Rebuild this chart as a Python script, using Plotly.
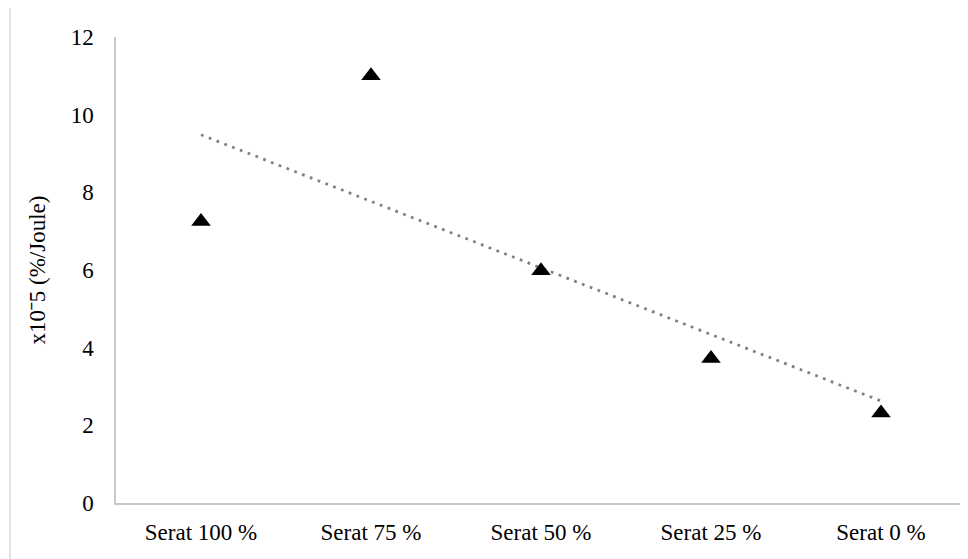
import numpy as np
import plotly.graph_objects as go

categories = ["Serat 100 %", "Serat 75 %", "Serat 50 %", "Serat 25 %", "Serat 0 %"]
values = [7.25, 11.0, 5.98, 3.72, 2.32]
y_ticks = [0, 2, 4, 6, 8, 10, 12]
y_title = "x10ˉ5 (%/Joule)"

# linear trendline (least squares) over category index
idx = np.arange(1, len(values) + 1)
slope, intercept = np.polyfit(idx, values, 1)
trend = slope * idx + intercept

FONT = "Liberation Serif, Times New Roman, serif"
FS = 23

fig = go.Figure()
fig.add_trace(go.Scatter(
    x=categories, y=trend, mode="lines",
    line=dict(color="#808080", width=2.75, dash="2.75px,5.6px"),
    hoverinfo="skip", showlegend=False,
))
fig.add_trace(go.Scatter(
    x=categories, y=values, mode="markers",
    marker=dict(symbol="triangle-up", size=17, color="black"),
    showlegend=False,
))

# page has an 8px body margin; figure sized so it ends at the viewport edge
OFF = 8
W, H = 968 - OFF, 559 - OFF
L, R, T, B = 116 - OFF, 2, 37 - OFF, 56
pw, ph = W - L - R, H - T - B

fig.update_layout(
    width=W, height=H,
    margin=dict(l=L, r=R, t=T, b=B),
    paper_bgcolor="white", plot_bgcolor="white",
    font=dict(family=FONT, size=FS, color="black"),
    xaxis=dict(
        type="category", range=[-0.5, len(categories) - 0.5],
        showgrid=False, zeroline=False,
        showline=True, linecolor="#c8c8c8", linewidth=1.5,
        ticks="", ticklabelstandoff=8,
        tickfont=dict(family=FONT, size=FS, color="black"),
    ),
    yaxis=dict(
        range=[0, 12], tickvals=y_ticks, showgrid=False, zeroline=False,
        showline=True, linecolor="#c8c8c8", linewidth=1.5,
        ticks="", ticklabelstandoff=16,
        tickfont=dict(family=FONT, size=FS, color="black"),
        title=dict(text=y_title, font=dict(family=FONT, size=FS, color="black"), standoff=19),
    ),
    shapes=[dict(
        type="rect", xref="paper", yref="paper",
        x0=(10 - 116) / pw, x1=(972 - 116) / pw,
        y0=-(565 - 503) / ph, y1=(503 - 7) / ph,
        line=dict(color="#d9d9d9", width=1.5), layer="below",
    )],
)

fig.write_html("out.html")
